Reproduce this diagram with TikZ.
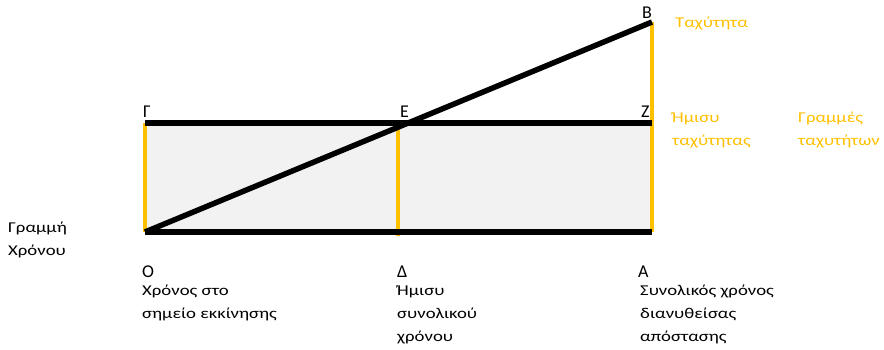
\documentclass[tikz,border=0pt]{standalone}
\usepackage{fontspec}
\setmainfont{Carlito}
\newfontfamily\widefont[FakeStretch=1.25]{Carlito}
\definecolor{gold}{HTML}{FFC000}
\definecolor{lightgrey}{HTML}{F2F2F2}
\tikzset{pt/.style={inner sep=0pt,anchor=base west,
    font=\fontsize{18}{18}\selectfont},
  lbl/.style={inner sep=0pt,anchor=base west,align=left,
    font=\widefont\fontsize{15}{23}\selectfont},
  olbl/.style={lbl,text=gold},
  bline/.style={line width=5.5pt,black},
  oline/.style={line width=4.5pt,gold},
}
\begin{document}
\begin{tikzpicture}[x=1pt,y=-1pt]
  \useasboundingbox (0,0) rectangle (884,349);
  % corner points
  \coordinate (O) at (145,232);
  \coordinate (D) at (398,232);
  \coordinate (A) at (652,232);
  \coordinate (G) at (145,123);
  \coordinate (E) at (398,123);
  \coordinate (Z) at (652,123);
  \coordinate (B) at (652,22);
  \fill[lightgrey] (G) rectangle (A);
  \draw[oline] (G) -- (O);
  \draw[oline] (E) -- ([yshift=-4pt]D);
  \draw[oline] (B) -- (A);
  \draw[bline] (G) -- (Z);
  \draw[bline] (O) -- (A);
  \draw[bline] (O) -- (B);
  % point names
  \node[pt] (nB) at (642,18) {B};
  \node[pt] (nG) at (143,117) {Γ};
  \node[pt] (nE) at (400,117) {E};
  \node[pt] (nZ) at (641,117) {Z};
  \node[pt] (nO) at (142,277) {Ο};
  \node[pt] (nD) at (397,277) {Δ};
  \node[pt] (nA) at (638,277) {Α};
  % descriptions (base = last line)
  \node[lbl] (time) at (8,255) {Γραμμή\\Χρόνου};
  \node[lbl] (start) at (142,318) {Χρόνος στο\\σημείο εκκίνησης};
  \node[lbl] (half) at (397,341) {Ήμισυ\\συνολικού\\χρόνου};
  \node[lbl] (total) at (640,341) {Συνολικός χρόνος\\διανυθείσας\\απόστασης};
  \node[olbl] (speed) at (675,27) {Ταχύτητα};
  \node[olbl] (halfspeed) at (672,145) {Ήμισυ\\ταχύτητας};
  \node[olbl] (speeds) at (798,145) {Γραμμές\\ταχυτήτων};
\end{tikzpicture}
\end{document}
